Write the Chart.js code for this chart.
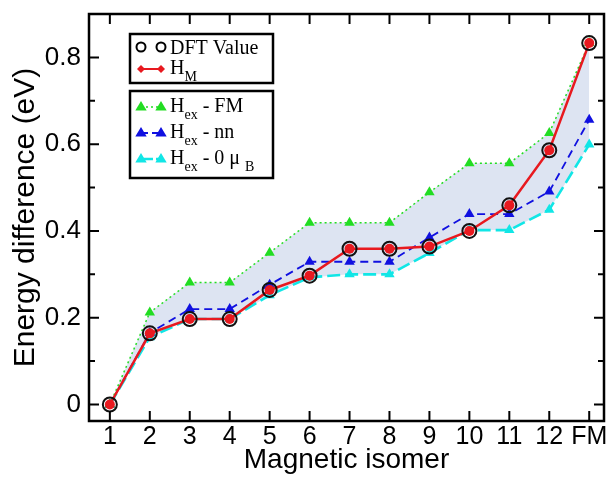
<!DOCTYPE html>
<html>
<head>
<meta charset="utf-8">
<script src="https://cdn.jsdelivr.net/npm/chart.js@4.4.1/dist/chart.umd.min.js"></script>
<style>
  html, body { margin: 0; padding: 0; background: #fff; }
  #wrap { width: 613px; height: 478px; }
</style>
</head>
<body>
<div id="wrap"><canvas id="isomers" width="613" height="478"></canvas></div>
<script>
var categories = ['1', '2', '3', '4', '5', '6', '7', '8', '9', '10', '11', '12', 'FM'];
var dftValue = [0, 0.164, 0.197, 0.197, 0.264, 0.297, 0.359, 0.359, 0.364, 0.400, 0.459, 0.586, 0.833];
var hM       = [0, 0.164, 0.197, 0.197, 0.264, 0.297, 0.359, 0.359, 0.364, 0.400, 0.459, 0.586, 0.833];
var hexFM    = [0, 0.212, 0.281, 0.281, 0.350, 0.419, 0.419, 0.419, 0.489, 0.556, 0.556, 0.626, 0.833];
var hexNN    = [0, 0.165, 0.220, 0.220, 0.276, 0.329, 0.329, 0.329, 0.385, 0.439, 0.439, 0.491, 0.656];
var hex0muB  = [0, 0.155, 0.197, 0.197, 0.252, 0.293, 0.300, 0.300, 0.349, 0.402, 0.402, 0.449, 0.599];
var yTicks      = [0, 0.1, 0.2, 0.3, 0.4, 0.5, 0.6, 0.7, 0.8];
var yTickLabels = ['0', '', '0.2', '', '0.4', '', '0.6', '', '0.8'];

function pts(arr) {
  return arr.map(function (v, i) { return { x: i + 1, y: v }; });
}

// legend: two framed boxes, drawn by hand because of the subscripts
function legendRow(ctx, y, base, main, sub, rest, sub2) {
  ctx.fillStyle = '#000';
  ctx.font = '20px "Liberation Serif"';
  var x = 170;
  ctx.fillText(main, x, base);
  x += ctx.measureText(main).width;
  if (sub) {
    ctx.font = '14px "Liberation Serif"';
    ctx.fillText(sub, x, base + 7);
    x += ctx.measureText(sub).width;
  }
  if (rest) {
    ctx.font = '20px "Liberation Serif"';
    ctx.fillText(rest, x, base);
    x += ctx.measureText(rest).width;
  }
  if (sub2) {
    ctx.font = '14px "Liberation Serif"';
    ctx.fillText(sub2, x, base + 7);
  }
}

function tri(ctx, x, y, r, color) {
  ctx.fillStyle = color;
  ctx.beginPath();
  ctx.moveTo(x, y - r);
  ctx.lineTo(x + r * 0.95, y + r * 0.6);
  ctx.lineTo(x - r * 0.95, y + r * 0.6);
  ctx.closePath();
  ctx.fill();
}

function drawLegend(ctx) {
  ctx.save();
  ctx.strokeStyle = '#000';
  ctx.lineWidth = 2.5;
  ctx.strokeRect(130, 34, 143, 49);
  ctx.strokeRect(130, 91, 143, 87);

  // DFT Value
  ctx.lineWidth = 2;
  [141, 161].forEach(function (x) {
    ctx.beginPath(); ctx.arc(x, 47, 4.5, 0, Math.PI * 2); ctx.stroke();
  });
  legendRow(ctx, 47, 53.5, 'DFT Value');

  // H_M
  ctx.strokeStyle = '#e8191f'; ctx.lineWidth = 2;
  ctx.beginPath(); ctx.moveTo(141, 69); ctx.lineTo(161, 69); ctx.stroke();
  [141, 161].forEach(function (x) {
    ctx.fillStyle = '#e8191f';
    ctx.beginPath(); ctx.moveTo(x, 65); ctx.lineTo(x + 4, 69); ctx.lineTo(x, 73); ctx.lineTo(x - 4, 69); ctx.closePath(); ctx.fill();
  });
  legendRow(ctx, 69, 74, 'H', 'M');

  var rows = [
    { y: 107, base: 112, color: '#22dd22', dash: [2, 3], w: 1.5, rest: ' - FM', sub2: null },
    { y: 133, base: 138, color: '#1010e0', dash: [7, 4], w: 1.8, rest: ' - nn', sub2: null },
    { y: 159, base: 164, color: '#11e6e6', dash: [12, 3], w: 2.4, rest: ' - 0 \u03bc ', sub2: 'B' }
  ];
  rows.forEach(function (r) {
    ctx.strokeStyle = r.color; ctx.lineWidth = r.w; ctx.setLineDash(r.dash);
    ctx.beginPath(); ctx.moveTo(141, r.y); ctx.lineTo(161, r.y); ctx.stroke();
    ctx.setLineDash([]);
    tri(ctx, 141, r.y, 6, r.color);
    tri(ctx, 161, r.y, 6, r.color);
    legendRow(ctx, r.y, r.base, 'H', 'ex', r.rest, r.sub2);
  });
  ctx.restore();
}

var framePlugin = {
  id: 'frame',
  afterDraw: function (chart) {
    var ctx = chart.ctx;
    var a = chart.chartArea;
    var xs = chart.scales.x, ys = chart.scales.y;
    ctx.save();
    ctx.strokeStyle = '#000';
    ctx.lineWidth = 2;
    xs.ticks.forEach(function (t) {
      var px = xs.getPixelForValue(t.value);
      ctx.beginPath();
      ctx.moveTo(px, a.bottom); ctx.lineTo(px, a.bottom - 10);
      ctx.moveTo(px, a.top); ctx.lineTo(px, a.top + 10);
      ctx.stroke();
    });
    ys.ticks.forEach(function (t, i) {
      var py = ys.getPixelForValue(t.value);
      var len = yTickLabels[i] ? 10 : 6;
      ctx.beginPath();
      ctx.moveTo(a.left, py); ctx.lineTo(a.left + len, py);
      ctx.moveTo(a.right, py); ctx.lineTo(a.right - len, py);
      ctx.stroke();
    });
    ctx.lineWidth = 2.5;
    ctx.strokeRect(a.left, a.top, a.right - a.left, a.bottom - a.top);
    ctx.restore();
    drawLegend(ctx);
  }
};

var ctx = document.getElementById('isomers').getContext('2d');
var isomerChart = new Chart(ctx, {
  type: 'line',
  data: {
    datasets: [
      {
        label: 'DFT Value',
        data: pts(dftValue),
        showLine: false,
        pointRadius: 7,
        pointBorderWidth: 2,
        pointBorderColor: '#111',
        pointBackgroundColor: 'rgba(0,0,0,0)'
      },
      {
        label: 'H_M',
        data: pts(hM),
        borderColor: '#e8191f',
        borderWidth: 2.5,
        pointRadius: 5,
        pointBorderWidth: 0,
        pointBackgroundColor: '#e8191f',
        fill: false
      },
      {
        label: 'H_ex - FM',
        data: pts(hexFM),
        borderColor: '#22dd22',
        borderWidth: 1.5,
        borderDash: [2, 3],
        pointStyle: 'triangle',
        pointRadius: 6,
        pointBorderWidth: 0,
        pointBackgroundColor: '#22dd22',
        fill: { target: 4 },
        backgroundColor: '#dde4f2'
      },
      {
        label: 'H_ex - nn',
        data: pts(hexNN),
        borderColor: '#1010e0',
        borderWidth: 1.8,
        borderDash: [8, 5],
        pointStyle: 'triangle',
        pointRadius: 6,
        pointBorderWidth: 0,
        pointBackgroundColor: '#1010e0',
        fill: false
      },
      {
        label: 'H_ex - 0 muB',
        data: pts(hex0muB),
        borderColor: '#11e6e6',
        borderWidth: 2.6,
        borderDash: [13, 5],
        pointStyle: 'triangle',
        pointRadius: 6,
        pointBorderWidth: 0,
        pointBackgroundColor: '#11e6e6',
        fill: false
      }
    ]
  },
  options: {
    responsive: false,
    animation: false,
    layout: { padding: { top: 14, right: 5, left: 0, bottom: 0 } },
    plugins: {
      legend: { display: false },
      tooltip: { enabled: false },
      filler: { drawTime: 'beforeDatasetsDraw' }
    },
    scales: {
      x: {
        type: 'linear',
        min: 0.478,
        max: 13.37,
        afterBuildTicks: function (s) {
          s.ticks = categories.map(function (c, i) { return { value: i + 1 }; });
        },
        afterFit: function (s) {
          s.height = 57;
          s.paddingLeft = 0; s.paddingRight = 0;
        },
        ticks: {
          autoSkip: false,
          maxRotation: 0,
          padding: 1,
          color: '#000',
          font: { family: 'Liberation Sans', size: 25 },
          callback: function (v) { return categories[Math.round(v) - 1]; }
        },
        grid: { display: false, drawTicks: false },
        border: { display: false },
        title: {
          display: true,
          text: 'Magnetic isomer',
          color: '#000',
          font: { family: 'Liberation Sans', size: 28 },
          padding: { top: 0, bottom: 1 }
        }
      },
      y: {
        min: -0.038,
        max: 0.9,
        afterBuildTicks: function (s) {
          s.ticks = yTicks.map(function (v) { return { value: v }; });
        },
        afterFit: function (s) {
          s.width = 89;
          s.paddingTop = 0; s.paddingBottom = 0;
        },
        ticks: {
          padding: 8,
          color: '#000',
          font: { family: 'Liberation Sans', size: 26 },
          callback: function (v, i) { return yTickLabels[i]; }
        },
        grid: { display: false, drawTicks: false },
        border: { display: false },
        title: {
          display: true,
          text: 'Energy difference (eV)',
          color: '#000',
          font: { family: 'Liberation Sans', size: 30 },
          padding: { top: 8, bottom: 0 }
        }
      }
    }
  },
  plugins: [framePlugin]
});
</script>
</body>
</html>
